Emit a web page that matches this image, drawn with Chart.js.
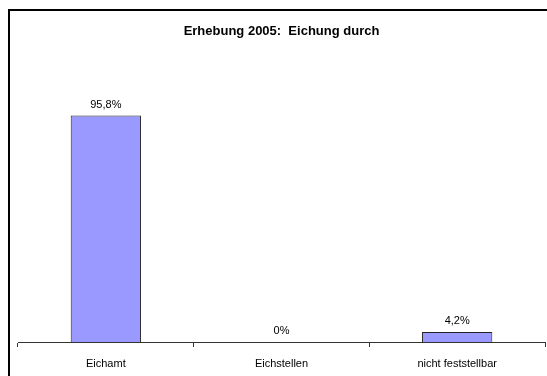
<!DOCTYPE html>
<html>
<head>
<meta charset="utf-8">
<script src="https://cdn.jsdelivr.net/npm/chart.js@4"></script>
<style>
  html, body { margin: 0; padding: 0; background: #fff; }
  #wrap { width: 547px; height: 376px; position: relative; }
</style>
</head>
<body>
<div id="wrap"><canvas id="chart" width="547" height="376"></canvas></div>
<script>
const categories = ['Eichamt', 'Eichstellen', 'nicht feststellbar'];
const shares = [95.8, 0, 4.2];
const shareLabels = ['95,8%', '0%', '4,2%'];

// outer frame (only left and top edges are visible in the picture)
const framePlugin = {
  id: 'frame',
  beforeDraw(chart) {
    const c = chart.ctx;
    c.save();
    c.fillStyle = '#fff';
    c.fillRect(0, 0, chart.width, chart.height);
    c.strokeStyle = '#000';
    c.lineWidth = 2;
    c.beginPath();
    c.moveTo(9, chart.height);
    c.lineTo(9, 10);
    c.lineTo(chart.width, 10);
    c.stroke();
    c.restore();
  }
};

// value labels above bars
const valuePlugin = {
  id: 'values',
  afterDatasetsDraw(chart) {
    const c = chart.ctx;
    const meta = chart.getDatasetMeta(0);
    c.save();
    c.font = '11px "Liberation Sans", Arial, sans-serif';
    c.fillStyle = '#000';
    c.textAlign = 'center';
    c.textBaseline = 'middle';
    meta.data.forEach((bar, i) => {
      c.fillText(shareLabels[i], bar.x, bar.y - 11);
    });
    c.restore();
  }
};

new Chart(document.getElementById('chart'), {
  type: 'bar',
  data: {
    labels: categories,
    datasets: [{
      data: shares,
      backgroundColor: '#9999ff',
      borderColor: '#222',
      borderWidth: 1,
      borderSkipped: 'bottom',
      categoryPercentage: 1,
      barPercentage: 0.4
    }]
  },
  options: {
    responsive: false,
    animation: false,
    devicePixelRatio: 1,
    layout: { padding: { left: 18, right: 2, top: 0, bottom: 0 } },
    plugins: {
      legend: { display: false },
      tooltip: { enabled: false },
      title: {
        display: true,
        text: 'Erhebung 2005:  Eichung durch',
        color: '#000',
        font: { family: '"Liberation Sans", Arial, sans-serif', size: 13, weight: 'bold' },
        padding: { top: 24, bottom: 66 }
      }
    },
    scales: {
      y: { display: false, min: 0, max: 100 },
      x: {
        afterFit(scale) { scale.height = 34; },
        border: { display: true, color: '#333', width: 1 },
        grid: { display: true, drawOnChartArea: false, drawTicks: true, tickLength: 5, color: '#333', offset: true },
        ticks: {
          color: '#000',
          padding: 10,
          font: { family: '"Liberation Sans", Arial, sans-serif', size: 11 }
        }
      }
    }
  },
  plugins: [framePlugin, valuePlugin]
});
</script>
</body>
</html>
